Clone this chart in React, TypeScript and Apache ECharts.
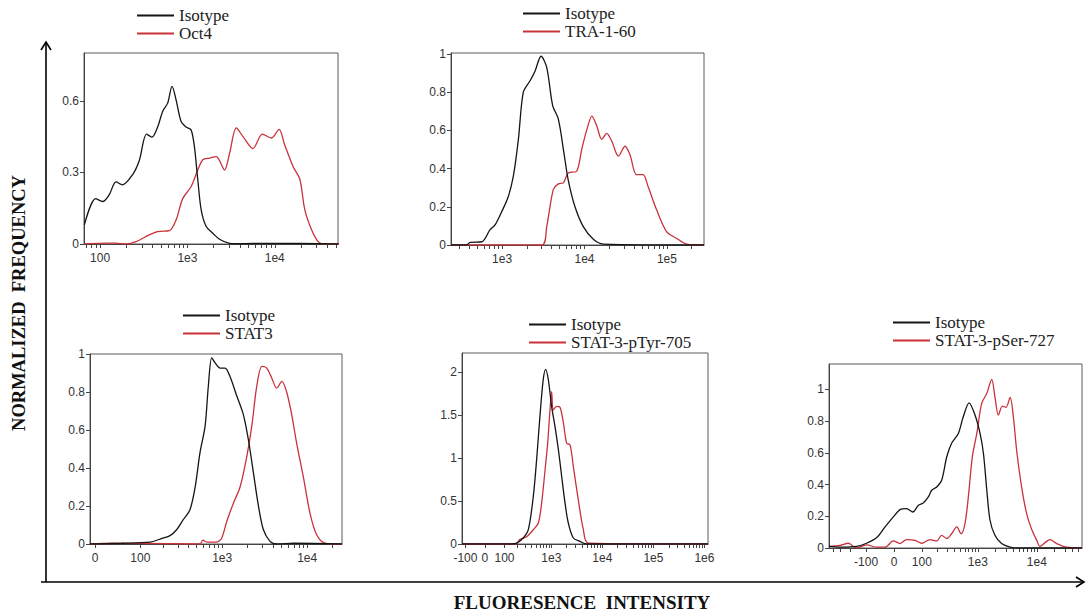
import React, { useEffect, useRef } from "react";
import * as echarts from "echarts";

// ---------- DATA (raw fluorescence intensity -> normalized frequency) ----------
const P1_NAME = "Oct4";
const P1_ISO_X = [66, 89, 107, 127, 152, 180, 235, 281, 340, 392, 456, 520, 594, 667, 740, 846, 966, 1100, 1200, 1313, 1437, 1640, 1950, 2330, 3040, 4000, 8000, 54000];
const P1_ISO_Y = [0.08, 0.19, 0.178, 0.206, 0.26, 0.248, 0.29, 0.35, 0.46, 0.448, 0.49, 0.555, 0.59, 0.66, 0.605, 0.513, 0.49, 0.478, 0.41, 0.27, 0.143, 0.073, 0.045, 0.02, 0.003, 0.001, 0.003, 0];
const P1_MK_X = [66, 120, 150, 200, 258, 366, 456, 621, 740, 883, 1100, 1313, 1500, 1790, 2140, 2660, 3040, 3630, 4330, 5630, 7220, 9170, 11200, 13000, 16200, 19400, 22100, 26400, 31400, 35800, 54000];
const P1_MK_Y = [0, 0.004, 0.004, 0, 0.01, 0.038, 0.052, 0.056, 0.1, 0.19, 0.24, 0.31, 0.353, 0.36, 0.366, 0.31, 0.38, 0.486, 0.45, 0.4, 0.46, 0.444, 0.48, 0.415, 0.325, 0.27, 0.143, 0.06, 0.01, 0, 0];

const P2_NAME = "TRA-1-60";
const P2_ISO_X = [240, 370, 410, 567, 715, 823, 992, 1190, 1370, 1575, 1810, 2185, 2510, 2970, 3480, 4110, 4810, 5640, 6350, 7670, 9670, 12800, 16900, 282000];
const P2_ISO_Y = [0, 0, 0.014, 0.017, 0.08, 0.105, 0.175, 0.254, 0.36, 0.55, 0.8, 0.86, 0.91, 0.988, 0.93, 0.73, 0.66, 0.48, 0.34, 0.2, 0.096, 0.03, 0.005, 0];
const P2_MK_X = [240, 3030, 3480, 4180, 4810, 5530, 6350, 8030, 9250, 10700, 12300, 14100, 16200, 18600, 21400, 25800, 31000, 35600, 42800, 51400, 59000, 75000, 99000, 131000, 174000, 282000];
const P2_MK_Y = [0, 0, 0.096, 0.29, 0.32, 0.325, 0.377, 0.386, 0.5, 0.605, 0.675, 0.623, 0.553, 0.584, 0.544, 0.465, 0.517, 0.474, 0.368, 0.368, 0.307, 0.184, 0.07, 0.035, 0.005, 0];

const P3_NAME = "STAT3";
const P3_ISO_X = [-9, 50, 135, 181, 240, 288, 346, 416, 480, 547, 629, 687, 753, 826, 947, 1083, 1240, 1485, 1780, 2035, 2335, 2680, 3060, 3660, 4380, 7000, 25700];
const P3_ISO_Y = [0, 0.004, 0.01, 0.026, 0.044, 0.075, 0.128, 0.18, 0.3, 0.48, 0.62, 0.83, 0.98, 0.953, 0.926, 0.926, 0.88, 0.78, 0.68, 0.55, 0.374, 0.198, 0.075, 0.014, 0, 0.004, 0];
const P3_MK_X = [-9, 30, 100, 547, 592, 660, 858, 986, 1135, 1357, 1625, 1950, 2233, 2554, 2938, 3347, 3830, 4385, 5040, 5740, 6590, 7530, 9000, 10800, 12900, 16200, 25700];
const P3_MK_Y = [0, 0.004, 0.003, 0, 0.02, 0.01, 0.01, 0.03, 0.12, 0.215, 0.3, 0.46, 0.62, 0.83, 0.935, 0.926, 0.874, 0.82, 0.856, 0.8, 0.68, 0.53, 0.356, 0.163, 0.05, 0.005, 0];

const P4_NAME = "STAT-3-pTyr-705";
const P4_ISO_X = [-123, 150, 197, 273, 347, 437, 510, 593, 690, 771, 870, 1010, 1175, 1370, 1590, 1850, 2150, 2700, 3650, 4920, 1175000];
const P4_ISO_Y = [0, 0, 0.01, 0.07, 0.166, 0.55, 0.98, 1.48, 1.91, 2.03, 1.91, 1.6, 1.37, 1.1, 0.79, 0.48, 0.244, 0.07, 0.03, 0, 0];
const P4_MK_X = [-123, 190, 233, 320, 437, 552, 643, 750, 845, 940, 1010, 1090, 1270, 1480, 1720, 2000, 2320, 2700, 3370, 4240, 5280, 1175000];
const P4_MK_Y = [0, 0, 0.055, 0.085, 0.166, 0.244, 0.48, 0.86, 1.17, 1.56, 1.77, 1.56, 1.6, 1.59, 1.41, 1.17, 1.155, 0.9, 0.515, 0.166, 0.01, 0];

const P5_NAME = "STAT-3-pSer-727";
const P5_ISO_X = [-477, -300, -154, -98, -55, -27, -2, 18, 39, 61, 84, 107, 135, 157, 194, 238, 293, 356, 465, 564, 710, 895, 1090, 1245, 1420, 1610, 1950, 2530, 3530, 5000, 58300];
const P5_ISO_Y = [0.01, 0.005, 0.01, 0.03, 0.066, 0.133, 0.196, 0.242, 0.248, 0.227, 0.27, 0.284, 0.322, 0.364, 0.385, 0.427, 0.575, 0.66, 0.722, 0.827, 0.915, 0.838, 0.722, 0.596, 0.364, 0.175, 0.08, 0.028, 0.006, 0, 0];
const P5_MK_X = [-477, -306, -219, -154, -98, -55, -27, -2, 18, 39, 70, 99, 145, 194, 238, 293, 356, 437, 517, 604, 689, 806, 960, 1160, 1420, 1720, 1950, 2230, 2610, 3000, 3530, 4010, 4570, 5550, 6750, 8160, 9960, 11300, 13800, 16700, 21700, 32100, 54000, 58300];
const P5_MK_Y = [0.01, 0.017, 0.03, 0, 0.02, 0.005, 0.005, 0.045, 0.028, 0.053, 0.048, 0.03, 0.053, 0.045, 0.08, 0.06, 0.09, 0.133, 0.09, 0.154, 0.322, 0.575, 0.722, 0.91, 0.975, 1.063, 0.953, 0.838, 0.895, 0.886, 0.95, 0.823, 0.61, 0.38, 0.213, 0.118, 0.049, 0.01, 0.034, 0.053, 0.028, 0.005, 0, 0];

// axis tick labels
const P1_XTICKS = [100, 1000, 10000];
const P1_XLABELS = ["100", "1e3", "1e4"];
const P2_XTICKS = [1000, 10000, 100000];
const P2_XLABELS = ["1e3", "1e4", "1e5"];
const P3_XTICKS = [0, 100, 1000, 10000];
const P3_XLABELS = ["0", "100", "1e3", "1e4"];
const P4_XTICKS = [-100, 0, 100, 1000, 10000, 100000, 1000000];
const P4_XLABELS = ["-100", "0", "100", "1e3", "1e4", "1e5", "1e6"];
const P5_XTICKS = [-100, 0, 100, 1000, 10000];
const P5_XLABELS = ["-100", "0", "100", "1e3", "1e4"];

const P1_YTICKS = [0, 0.3, 0.6];
const P2_YTICKS = [0, 0.2, 0.4, 0.6, 0.8, 1];
const P3_YTICKS = [0, 0.2, 0.4, 0.6, 0.8, 1];
const P4_YTICKS = [0, 0.5, 1, 1.5, 2];
const P5_YTICKS = [0, 0.2, 0.4, 0.6, 0.8, 1];

const ISO_NAME = "Isotype";

// ---------- scales ----------
const LN10 = Math.log(10);
const logT = (x: number) => Math.log10(x);
const biexT = (c: number) => (x: number) => Math.asinh(x / (2 * c)) / LN10;

type PanelDef = {
  name: string;
  isoX: number[]; isoY: number[]; mkX: number[]; mkY: number[];
  xDomain: [number, number]; yMax: number;
  xTicks: number[]; xLabels: string[]; yTicks: number[];
  T: (x: number) => number;
  grid: { left: number; top: number; width: number; height: number };
  legend: { left: number; top: number };
};

const PANELS: PanelDef[] = [
  { name: P1_NAME, isoX: P1_ISO_X, isoY: P1_ISO_Y, mkX: P1_MK_X, mkY: P1_MK_Y, xDomain: [65.4, 53000], yMax: 0.8,
    xTicks: P1_XTICKS, xLabels: P1_XLABELS, yTicks: P1_YTICKS, T: logT,
    grid: { left: 84, top: 53, width: 254, height: 191 }, legend: { left: 137, top: 7 } },
  { name: P2_NAME, isoX: P2_ISO_X, isoY: P2_ISO_Y, mkX: P2_MK_X, mkY: P2_MK_Y, xDomain: [240, 282000], yMax: 1.005,
    xTicks: P2_XTICKS, xLabels: P2_XLABELS, yTicks: P2_YTICKS, T: logT,
    grid: { left: 451, top: 53, width: 253, height: 192 }, legend: { left: 523, top: 5 } },
  { name: P3_NAME, isoX: P3_ISO_X, isoY: P3_ISO_Y, mkX: P3_MK_X, mkY: P3_MK_Y, xDomain: [-8.7, 25700], yMax: 1.0,
    xTicks: P3_XTICKS, xLabels: P3_XLABELS, yTicks: P3_YTICKS, T: biexT(32),
    grid: { left: 90, top: 354, width: 252, height: 190 }, legend: { left: 183, top: 307 } },
  { name: P4_NAME, isoX: P4_ISO_X, isoY: P4_ISO_Y, mkX: P4_MK_X, mkY: P4_MK_Y, xDomain: [-123, 1175000], yMax: 2.22,
    xTicks: P4_XTICKS, xLabels: P4_XLABELS, yTicks: P4_YTICKS, T: biexT(50),
    grid: { left: 462, top: 353, width: 246, height: 191 }, legend: { left: 529, top: 316 } },
  { name: P5_NAME, isoX: P5_ISO_X, isoY: P5_ISO_Y, mkX: P5_MK_X, mkY: P5_MK_Y, xDomain: [-477, 58300], yMax: 1.16,
    xTicks: P5_XTICKS, xLabels: P5_XLABELS, yTicks: P5_YTICKS, T: biexT(38),
    grid: { left: 829, top: 364, width: 253, height: 184 }, legend: { left: 893, top: 314 } },
];

function minorTickValues(domain: [number, number]): number[] {
  const out: number[] = [];
  const decades = domain[0] > 0 ? [10, 100, 1000, 10000, 100000, 1000000] : [100, 1000, 10000, 100000, 1000000];
  for (const d of decades) {
    for (let m = 1; m <= 9; m++) {
      const v = m * d;
      if (v >= domain[0] && v <= domain[1]) out.push(v);
      if (-v >= domain[0] && -v <= domain[1]) out.push(-v);
    }
  }
  return out;
}

const BLACK = "#151515";
const RED = "#c9323b";
const SANS = "Liberation Sans, Arial, sans-serif";
const SERIF = "Liberation Serif, Times New Roman, serif";

function buildOption() {
  const grid: any[] = [];
  const xAxis: any[] = [];
  const yAxis: any[] = [];
  const series: any[] = [];
  const legend: any[] = [];

  PANELS.forEach((p, i) => {
    grid.push({ ...p.grid, show: true, borderColor: "#5a5a5a", borderWidth: 1, backgroundColor: "transparent", containLabel: false });
    const tickVals = Array.from(new Set([...p.xTicks, ...minorTickValues(p.xDomain)])).map(p.T);
    const labelVals = p.xTicks.map(p.T);
    xAxis.push({
      type: "value", gridIndex: i, min: p.T(p.xDomain[0]), max: p.T(p.xDomain[1]),
      splitLine: { show: false },
      axisLine: { show: true, onZero: false, lineStyle: { color: "#444", width: 1 } },
      axisTick: { show: true, inside: false, length: 4, customValues: tickVals, lineStyle: { color: "#444" } },
      axisLabel: {
        customValues: labelVals, margin: 8, color: "#333", fontFamily: SANS, fontSize: 12,
        formatter: (v: number) => {
          const k = labelVals.findIndex((t) => Math.abs(t - v) < 1e-9);
          return k >= 0 ? p.xLabels[k] : "";
        },
      },
    });
    yAxis.push({
      type: "value", gridIndex: i, min: 0, max: p.yMax,
      splitLine: { show: false },
      axisLine: { show: true, onZero: false, lineStyle: { color: "#444", width: 1 } },
      axisTick: { show: true, inside: false, length: 4, customValues: p.yTicks, lineStyle: { color: "#444" } },
      axisLabel: { customValues: p.yTicks, margin: 5, color: "#333", fontFamily: SANS, fontSize: 12 },
    });
    series.push({
      type: "line", name: ISO_NAME, xAxisIndex: i, yAxisIndex: i, symbol: "none", showSymbol: false,
      smooth: 0.3, lineStyle: { color: BLACK, width: 1.3 }, itemStyle: { color: BLACK }, z: 3,
      data: p.isoX.map((x, k) => [p.T(x), p.isoY[k]]),
    });
    series.push({
      type: "line", name: p.name, xAxisIndex: i, yAxisIndex: i, symbol: "none", showSymbol: false,
      smooth: 0.3, lineStyle: { color: RED, width: 1.3 }, itemStyle: { color: RED }, z: 2,
      data: p.mkX.map((x, k) => [p.T(x), p.mkY[k]]),
    });
    legend.push({
      left: p.legend.left, top: p.legend.top, orient: "vertical", padding: 0,
      icon: "rect", itemWidth: 37, itemHeight: 2, itemGap: 1, selectedMode: false,
      data: [ISO_NAME, p.name],
      textStyle: { fontFamily: SERIF, fontSize: 17, color: "#222" },
    });
  });

  const graphic: any[] = [
    { type: "line", shape: { x1: 46, y1: 582, x2: 46, y2: 42 }, style: { stroke: "#000", lineWidth: 1.6 } },
    { type: "polyline", shape: { points: [[41, 50], [46, 42], [51, 50]] }, style: { stroke: "#000", lineWidth: 1.6, fill: null } },
    { type: "line", shape: { x1: 41, y1: 582, x2: 1084, y2: 582 }, style: { stroke: "#000", lineWidth: 1.6 } },
    { type: "polyline", shape: { points: [[1076, 577], [1084, 582], [1076, 587]] }, style: { stroke: "#000", lineWidth: 1.6, fill: null } },
    {
      type: "text", x: 19, y: 303, rotation: Math.PI / 2,
      style: { text: "NORMALIZED  FREQUENCY", align: "center", verticalAlign: "middle", textAlign: "center", textVerticalAlign: "middle",
        fontFamily: SERIF, fontWeight: "bold", fontSize: 18.5, fill: "#111" },
    },
    {
      type: "text", x: 582, y: 602,
      style: { text: "FLUORESENCE  INTENSITY", align: "center", verticalAlign: "middle", textAlign: "center", textVerticalAlign: "middle",
        fontFamily: SERIF, fontWeight: "bold", fontSize: 19, fill: "#111" },
    },
  ];

  return { animation: false, backgroundColor: "#ffffff", grid, xAxis, yAxis, series, legend, graphic };
}

export default function App() {
  const ref = useRef<HTMLDivElement>(null);
  useEffect(() => {
    if (!ref.current) return;
    const chart = echarts.init(ref.current, undefined, { renderer: "svg" });
    chart.setOption(buildOption() as any);
    return () => chart.dispose();
  }, []);
  return <div ref={ref} style={{ position: "absolute", left: 0, top: 0, width: 1086, height: 615 }} />;
}
